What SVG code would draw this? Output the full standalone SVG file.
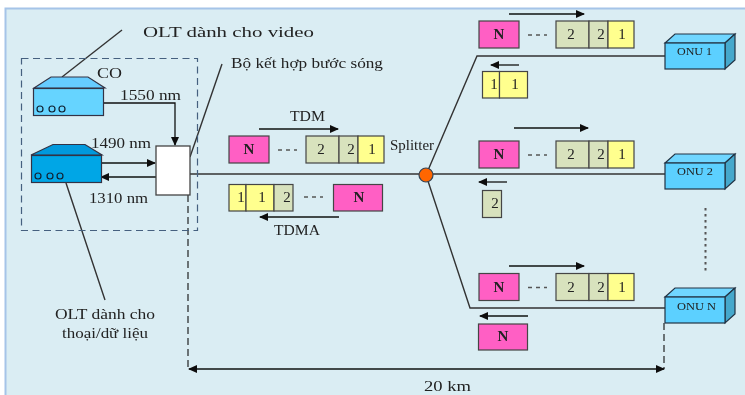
<svg xmlns="http://www.w3.org/2000/svg" width="745" height="395" viewBox="0 0 745 395">
<style>
text{font-family:"Liberation Serif","Times New Roman",serif;fill:#222;font-size:15px}
.c{text-anchor:middle}
.s{font-size:12px}
.ln{fill:none;stroke:#333;stroke-width:1.4}
.ar{fill:none;stroke:#111;stroke-width:1.3;marker-end:url(#a)}
.dk{fill:none;stroke:#222;stroke-width:1.2;stroke-dasharray:7 4}
.p{stroke:#444;stroke-width:1.2}
.n{fill:#FF5FC4}.g{fill:#D8E2BD}.y{fill:#FFFF8E}
.dev{stroke:#334;stroke-width:1.2}
.dot{fill:none;stroke:#123;stroke-width:1.2}
.onu{fill:#5BD0FF;stroke:#234;stroke-width:1.2}
.ot{fill:#6FD6FF;stroke:#234;stroke-width:1.2}
.os{fill:#45A8CC;stroke:#234;stroke-width:1.2}
.dash{stroke:#555;stroke-width:1.3;stroke-dasharray:4 4;fill:none}
</style>
<defs>
<marker id="a" markerWidth="9" markerHeight="8" refX="8" refY="4" orient="auto" markerUnits="userSpaceOnUse"><path d="M0 0L9 4L0 8Z" fill="#111"/></marker>
<filter id="b" x="0" y="0" width="100%" height="100%"><feGaussianBlur stdDeviation="0.4"/></filter>
<g id="fwd">
<rect class="p n" x="0" y="0" width="40" height="27"/>
<text class="c" x="20" y="18" font-weight="bold">N</text>
<path class="dash" d="M49 14H68"/>
<rect class="p g" x="77" y="0" width="33" height="27"/>
<rect class="p g" x="110" y="0" width="19" height="27"/>
<rect class="p y" x="129" y="0" width="26" height="27"/>
<text class="c" x="92" y="18">2</text><text class="c" x="122" y="18">2</text><text class="c" x="143" y="18">1</text>
</g>
</defs>
<g filter="url(#b)">
<rect x="0" y="0" width="745" height="395" fill="#fff"/>
<rect x="5.500" y="8.500" width="745" height="395" fill="#DAEDF3" stroke="#A5C4E8" stroke-width="2"/>
<g id="connectors">
<path class="ln" d="M190 174H665"/>
<path class="ln" d="M665 56H477L426 175L470 308H665"/>
<path class="ln" d="M122 30L62 77"/>
<path class="ln" d="M222 64L190 157"/>
<path class="ln" d="M66 183L105 300"/>
<path class="ar" d="M104 103H175V145"/>
<path class="ar" d="M101 163H155"/>
<path class="ar" d="M156 177H101"/>
<path class="dk" d="M188 195V369"/>
<path class="dk" d="M664 323V369"/>
<path class="ar" d="M426 369H189"/>
<path class="ar" d="M426 369H664"/>
<path class="ar" d="M509 14H584"/>
<path class="ar" d="M514 128H588"/>
<path class="ar" d="M509 266H584"/>
<path class="ar" d="M519 65H491"/>
<path class="ar" d="M507 182H479"/>
<path class="ar" d="M528 316H480"/>
<path class="ar" d="M259 129H338"/>
<path class="ar" d="M339 217H260"/>
<path d="M705.500 208V273" fill="none" stroke="#555" stroke-width="2" stroke-dasharray="2.500 3.500"/>
</g>
<g id="co"><rect x="21.500" y="58.500" width="176" height="172" fill="none" stroke="#44607F" stroke-width="1.200" stroke-dasharray="7 4.500"/>
<text x="97" y="78" textLength="25" lengthAdjust="spacingAndGlyphs">CO</text></g>
<g id="olt-video">
<path class="dev" d="M34 88L51 77H88L105 88Z" fill="#66CCFF"/>
<rect class="dev" x="33.500" y="88.500" width="70" height="27" fill="#66D4FF"/>
<circle class="dot" cx="40" cy="109" r="3"/><circle class="dot" cx="52" cy="109" r="3"/><circle class="dot" cx="62" cy="109" r="3"/>
</g>
<g id="olt-data">
<path class="dev" d="M31 155L53 144.500H85L102 155Z" fill="#0099DD"/>
<rect class="dev" x="31.500" y="155.500" width="70" height="27" fill="#00A6E6"/>
<circle class="dot" cx="38" cy="176" r="3"/><circle class="dot" cx="50" cy="176" r="3"/><circle class="dot" cx="60" cy="176" r="3"/>
</g>
<g id="combiner"><rect x="156" y="146" width="34" height="49" fill="#fff" stroke="#444" stroke-width="1.300"/></g>
<g id="splitter"><circle cx="426" cy="175" r="7" fill="#FF6600" stroke="#345" stroke-width="1.200"/></g>
<g id="frames-top"><use href="#fwd" x="229" y="136"/></g>
<g id="frames-tdma">
<rect class="p y" x="229" y="184.500" width="17" height="26.500"/><rect class="p y" x="246" y="184.500" width="28" height="26.500"/><rect class="p g" x="274" y="184.500" width="19" height="26.500"/>
<rect class="p n" x="333.500" y="184.500" width="49" height="26.500"/>
<path class="dash" d="M304 197H323"/>
<text class="c" x="241" y="202">1</text><text class="c" x="262" y="202">1</text><text class="c" x="287" y="202">2</text><text class="c" x="359" y="202" font-weight="bold">N</text>
</g>
<g id="frames-onu1"><use href="#fwd" x="479" y="21"/>
<rect class="p y" x="482.500" y="71.500" width="17" height="26.500"/><rect class="p y" x="499.500" y="71.500" width="28" height="26.500"/>
<text class="c" x="494" y="89">1</text><text class="c" x="515" y="89">1</text></g>
<g id="frames-onu2"><use href="#fwd" x="479" y="141"/>
<rect class="p g" x="482.500" y="190.500" width="19" height="27"/><text class="c" x="495" y="208">2</text></g>
<g id="frames-onun"><use href="#fwd" x="479" y="273.500"/>
<rect class="p n" x="478.500" y="324" width="49" height="26"/><text class="c" x="503" y="341" font-weight="bold">N</text></g>
<g id="onu1"><path class="ot" d="M665 43L675 34H735L725 43Z"/><path class="os" d="M725 43L735 34V60L725 69Z"/><rect class="onu" x="665" y="43" width="60" height="26"/><text x="677" y="55" textLength="35" lengthAdjust="spacingAndGlyphs" style="font-size:11px">ONU 1</text></g>
<g id="onu2"><path class="ot" d="M665 163L675 154H735L725 163Z"/><path class="os" d="M725 163L735 154V180L725 189Z"/><rect class="onu" x="665" y="163" width="60" height="26"/><text x="677" y="175" textLength="36" lengthAdjust="spacingAndGlyphs" style="font-size:11px">ONU 2</text></g>
<g id="onun"><path class="ot" d="M665 297L675 288H735L725 297Z"/><path class="os" d="M725 297L735 288V314L725 323Z"/><rect class="onu" x="665" y="297" width="60" height="26"/><text x="677" y="310" textLength="39" lengthAdjust="spacingAndGlyphs" style="font-size:11px">ONU N</text></g>
<g id="labels">
<text x="143" y="37" textLength="171" lengthAdjust="spacingAndGlyphs">OLT dành cho video</text>
<text x="231" y="68" textLength="152" lengthAdjust="spacingAndGlyphs">Bộ kết hợp bước sóng</text>
<text x="120" y="100" textLength="61" lengthAdjust="spacingAndGlyphs">1550 nm</text>
<text x="91" y="148" textLength="60" lengthAdjust="spacingAndGlyphs">1490 nm</text>
<text x="89" y="203" textLength="59" lengthAdjust="spacingAndGlyphs">1310 nm</text>
<text x="55" y="319" textLength="100" lengthAdjust="spacingAndGlyphs">OLT dành cho</text>
<text x="62" y="338" textLength="86" lengthAdjust="spacingAndGlyphs">thoại/dữ liệu</text>
<text x="290" y="121" textLength="35" lengthAdjust="spacingAndGlyphs">TDM</text>
<text x="274" y="235" textLength="46" lengthAdjust="spacingAndGlyphs">TDMA</text>
<text x="390" y="150" textLength="44" lengthAdjust="spacingAndGlyphs">Splitter</text>
<text x="424" y="391" textLength="47" lengthAdjust="spacingAndGlyphs">20 km</text>
</g>
</g>
</svg>
